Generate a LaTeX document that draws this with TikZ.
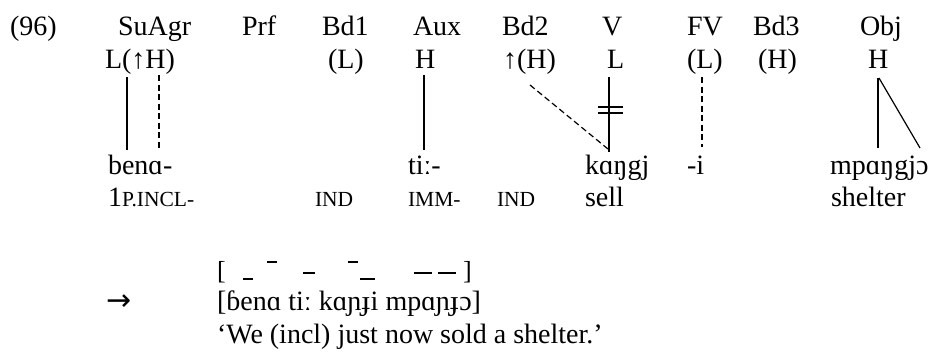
\documentclass[tikz,border=0pt]{standalone}
\usepackage{fontspec}
\setmainfont{Liberation Serif}
\newfontfamily\arrowfont{DejaVu Sans}
\begin{document}
\begin{tikzpicture}[x=1pt,y=-1pt,
  txt/.style={anchor=base west,inner sep=0pt,outer sep=0pt,font=\fontsize{28}{30}\selectfont},
  sc/.style={anchor=base west,inner sep=0pt,outer sep=0pt,font=\fontsize{21.5}{22}\selectfont},
  assoc/.style={line width=1.2pt},
  dassoc/.style={line width=1.2pt,dash pattern=on 6pt off 3.5pt},
  delink/.style={line width=2pt},
  tonemark/.style={line width=1.6pt}]
\useasboundingbox (0,0) rectangle (945,351);
% header row
\node[txt] (ex) at (10,35) {(96)};
\node[txt] (h1) at (118,35) {SuAgr};
\node[txt] (h2) at (242,35) {Prf};
\node[txt] (h3) at (322,35) {Bd1};
\node[txt] (h4) at (413,35) {Aux};
\node[txt] (h5) at (502,35) {Bd2};
\node[txt] (h6) at (602,35) {V};
\node[txt] (h7) at (687,35) {FV};
\node[txt] (h8) at (753,35) {Bd3};
\node[txt] (h9) at (860,35) {Obj};
% tone row
\node[txt] (t1) at (105,68) {L(↑H)};
\node[txt] (t3) at (328,68) {(L)};
\node[txt] (t4) at (415,68) {H};
\node[txt] (t5) at (503,68) {↑(H)};
\node[txt] (t6) at (607,68) {L};
\node[txt] (t7) at (687,68) {(L)};
\node[txt] (t8) at (758,68) {(H)};
\node[txt] (t9) at (868,68) {H};
% segmental row
\node[txt] (s1) at (108,174) {benɑ-};
\node[txt] (s4) at (408,174) {tiː-};
\node[txt] (s6) at (585,174) {kɑŋgj};
\node[txt] (s7) at (687,174) {-i};
\node[txt] (s9) at (830,174) {mpɑŋgjɔ};
% gloss row
\node[txt] (g1) at (108,206) {1\fontsize{21.5}{22}\selectfont P.INCL-};
\node[sc] (g3) at (315,206) {IND};
\node[sc] (g4) at (408,206) {IMM-};
\node[sc] (g5) at (497,206) {IND};
\node[txt] (g6) at (585,206) {sell};
\node[txt] (g9) at (831,206) {shelter};
% association line endpoints
\coordinate (aLt) at (127,77);  \coordinate (aLb) at (127,150);
\coordinate (aHt) at (159,75);  \coordinate (aHb) at (159,150);
\coordinate (xHt) at (424,75);  \coordinate (xHb) at (424,150);
\coordinate (bHt) at (530,85);  \coordinate (vb) at (608,149);
\coordinate (vt) at (609,77);   \coordinate (vB) at (609,152);
\coordinate (d1l) at (598,107); \coordinate (d1r) at (623,107);
\coordinate (d2l) at (598,113); \coordinate (d2r) at (623,113);
\coordinate (fvt) at (702,77);  \coordinate (fvb) at (702,147);
\coordinate (ot) at (878,78);   \coordinate (ob) at (878,148);
\coordinate (ot2) at (879,78);  \coordinate (ob2) at (920,148);
\draw[assoc] (aLt) -- (aLb);
\draw[dassoc] (aHt) -- (aHb);
\draw[assoc] (xHt) -- (xHb);
\draw[dassoc] (bHt) -- (vb);
\draw[assoc] (vt) -- (vB);
\draw[delink] (d1l) -- (d1r);
\draw[delink] (d2l) -- (d2r);
\draw[dassoc] (fvt) -- (fvb);
\draw[assoc] (ot) -- (ob);
\draw[assoc] (ot2) -- (ob2);
% surface tone line
\node[anchor=base west,inner sep=0pt,font=\fontsize{26}{28}\selectfont] (lb) at (217,279) {[};
\node[anchor=base west,inner sep=0pt,font=\fontsize{26}{28}\selectfont] (rb) at (463,279) {]};
\coordinate (m1a) at (243,279); \coordinate (m1b) at (253,279);
\coordinate (m2a) at (267,262); \coordinate (m2b) at (277,262);
\coordinate (m3a) at (303,273); \coordinate (m3b) at (315,273);
\coordinate (m4a) at (348,262); \coordinate (m4b) at (358,262);
\coordinate (m5a) at (360,279); \coordinate (m5b) at (375,279);
\coordinate (m6a) at (414,273); \coordinate (m6b) at (432,273);
\coordinate (m7a) at (438,273); \coordinate (m7b) at (456,273);
\foreach \i in {1,...,7} {\draw[tonemark] (m\i a) -- (m\i b);}
% output
\node[anchor=base west,inner sep=0pt,font=\arrowfont\fontsize{30}{32}\selectfont] (arr) at (106,310) {→};
\node[txt] (out) at (217,310) {[ɓenɑ tiː kɑɲɟi mpɑɲɟɔ]};
\node[txt] (tr) at (217,343) {‘We (incl) just now sold a shelter.’};
\end{tikzpicture}
\end{document}
